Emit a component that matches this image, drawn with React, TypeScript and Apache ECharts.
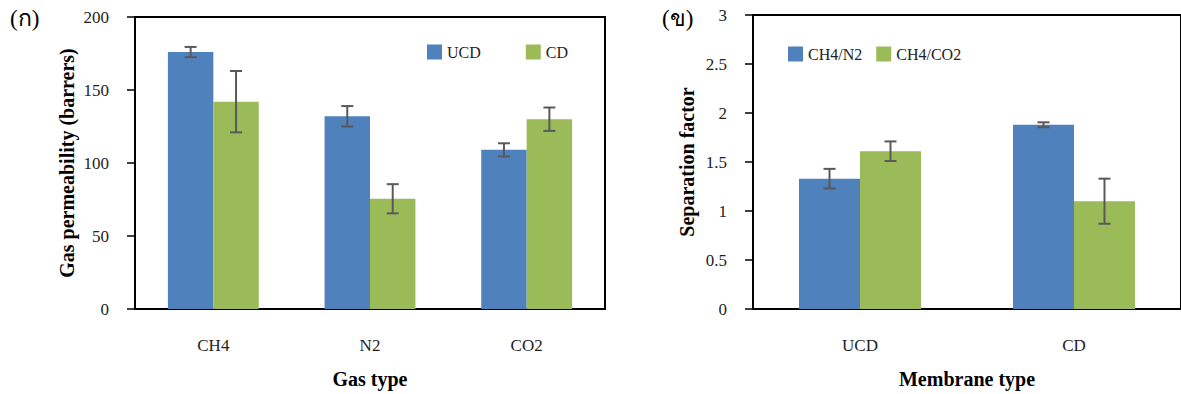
import React, { useEffect, useRef } from "react";
import * as echarts from "echarts";

const gasCats = ["CH4", "N2", "CO2"];
const ucdPerm = [176, 132, 109];
const ucdPermErr = [3.5, 7, 4.5];
const cdPerm = [142, 75.5, 130];
const cdPermErr = [21, 10, 8];

const memCats = ["UCD", "CD"];
const sepN2 = [1.33, 1.88];
const sepN2Err = [0.1, 0.025];
const sepCO2 = [1.61, 1.1];
const sepCO2Err = [0.1, 0.23];

const BLUE = "#4F81BD";
const GREEN = "#9BBB59";
const ERR = "#595959";
const FONT = "'Liberation Serif', 'Times New Roman', 'DejaVu Serif', serif";

const errData = (vals: number[], errs: number[]) =>
  vals.map((v, i) => [i, v - errs[i], v + errs[i]]);

const makeErr = (
  name: string,
  vals: number[],
  errs: number[],
  axis: number,
  sign: number,
  gapFrac: number
) => ({
  type: "custom",
  name,
  xAxisIndex: axis,
  yAxisIndex: axis,
  silent: true,
  z: 10,
  data: errData(vals, errs),
  encode: { x: 0, y: [1, 2] },
  renderItem: (params: any, api: any) => {
    const cat = api.value(0);
    const lo = api.coord([cat, api.value(1)]);
    const hi = api.coord([cat, api.value(2)]);
    const w = api.size([1, 0])[0];
    const off = (sign * w * (1 - gapFrac)) / 4;
    const x = lo[0] + off;
    const cap = 6;
    const style = { stroke: ERR, lineWidth: 2 };
    return {
      type: "group",
      children: [
        { type: "line", shape: { x1: x, y1: lo[1], x2: x, y2: hi[1] }, style },
        { type: "line", shape: { x1: x - cap, y1: lo[1], x2: x + cap, y2: lo[1] }, style },
        { type: "line", shape: { x1: x - cap, y1: hi[1], x2: x + cap, y2: hi[1] }, style },
      ],
    };
  },
});

const xAxisCommon = (name: string, gridIndex: number, data: string[]) => ({
  type: "category",
  gridIndex,
  data,
  name,
  nameLocation: "middle",
  nameGap: 60,
  nameTextStyle: { fontFamily: FONT, fontSize: 20, fontWeight: "bold", color: "#000" },
  axisLine: { show: true, lineStyle: { color: "#000", width: 2 } },
  axisTick: { show: false },
  axisLabel: { fontFamily: FONT, fontSize: 17, color: "#222", margin: 28 },
  splitLine: { show: false },
});

const yAxisCommon = (
  name: string,
  gridIndex: number,
  max: number,
  interval: number,
  nameGap: number
) => ({
  type: "value",
  gridIndex,
  min: 0,
  max,
  interval,
  name,
  nameLocation: "middle",
  nameGap,
  nameTextStyle: { fontFamily: FONT, fontSize: 20, fontWeight: "bold", color: "#000" },
  axisLine: { show: true, lineStyle: { color: "#000", width: 2 } },
  axisTick: { show: true, length: 8, inside: false, lineStyle: { color: "#000", width: 1.5 } },
  axisLabel: { fontFamily: FONT, fontSize: 17, color: "#222", margin: 26 },
  splitLine: { show: false },
});

export default function App() {
  const ref = useRef<HTMLDivElement>(null);
  useEffect(() => {
    if (!ref.current) return;
    const chart = echarts.init(ref.current, undefined, { renderer: "svg" });
    const gap1 = 0.42;
    const gap2 = 0.43;
    chart.setOption({
      animation: false,
      backgroundColor: "#fff",
      textStyle: { fontFamily: FONT },
      grid: [
        { left: 135, right: 576, top: 17, bottom: 85, show: true, borderColor: "#000", borderWidth: 2, containLabel: false },
        { left: 753, right: -4, top: 15, bottom: 84, show: true, borderColor: "#000", borderWidth: 2, containLabel: false },
      ],
      xAxis: [xAxisCommon("Gas type", 0, gasCats), xAxisCommon("Membrane type", 1, memCats)],
      yAxis: [
        yAxisCommon("Gas permeability (barrers)", 0, 200, 50, 58),
        yAxisCommon("Separation factor", 1, 3, 0.5, 56),
      ],
      legend: [
        {
          data: ["UCD", "CD"],
          left: 422,
          top: 39,
          itemWidth: 15,
          itemHeight: 15,
          itemGap: 45,
          icon: "rect",
          textStyle: { fontFamily: FONT, fontSize: 16, color: "#222" },
        },
        {
          data: ["CH4/N2", "CH4/CO2"],
          left: 783,
          top: 41,
          itemWidth: 15,
          itemHeight: 15,
          itemGap: 14,
          icon: "rect",
          textStyle: { fontFamily: FONT, fontSize: 16, color: "#222" },
        },
      ],
      graphic: [
        { type: "text", left: 10, top: 7, style: { text: "(ก)", font: `23px ${FONT}`, fill: "#000" } },
        { type: "text", left: 662, top: 7, style: { text: "(ข)", font: `23px ${FONT}`, fill: "#000" } },
      ],
      series: [
        { type: "bar", name: "UCD", xAxisIndex: 0, yAxisIndex: 0, data: ucdPerm, itemStyle: { color: BLUE }, barGap: "0%", barCategoryGap: `${gap1 * 100}%` },
        { type: "bar", name: "CD", xAxisIndex: 0, yAxisIndex: 0, data: cdPerm, itemStyle: { color: GREEN }, barGap: "0%", barCategoryGap: `${gap1 * 100}%` },
        makeErr("UCD", ucdPerm, ucdPermErr, 0, -1, gap1),
        makeErr("CD", cdPerm, cdPermErr, 0, 1, gap1),
        { type: "bar", name: "CH4/N2", xAxisIndex: 1, yAxisIndex: 1, data: sepN2, itemStyle: { color: BLUE }, barGap: "0%", barCategoryGap: `${gap2 * 100}%` },
        { type: "bar", name: "CH4/CO2", xAxisIndex: 1, yAxisIndex: 1, data: sepCO2, itemStyle: { color: GREEN }, barGap: "0%", barCategoryGap: `${gap2 * 100}%` },
        makeErr("CH4/N2", sepN2, sepN2Err, 1, -1, gap2),
        makeErr("CH4/CO2", sepCO2, sepCO2Err, 1, 1, gap2),
      ],
    });
    return () => chart.dispose();
  }, []);
  return (
    <div
      ref={ref}
      style={{ position: "fixed", left: 0, top: 0, width: 1181, height: 394, background: "#fff" }}
    />
  );
}
